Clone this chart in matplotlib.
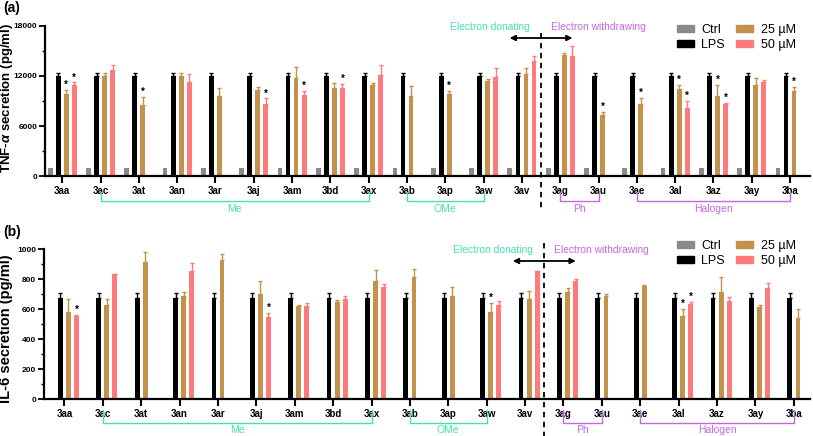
import numpy as np
import matplotlib
matplotlib.use('Agg')
import matplotlib.pyplot as plt
from matplotlib.patches import Patch
from matplotlib.transforms import blended_transform_factory

plt.rcParams['font.family'] = ['Liberation Sans', 'DejaVu Sans']
plt.rcParams['mathtext.fontset'] = 'custom'
plt.rcParams['mathtext.it'] = 'Liberation Sans:bold:italic'
plt.rcParams['mathtext.rm'] = 'Liberation Sans:bold'

nan = np.nan

compounds = ['3aa', '3ac', '3at', '3an', '3ar', '3aj', '3am', '3bd', '3ax', '3ab',
             '3ap', '3aw', '3av', '3ag', '3au', '3ae', '3al', '3az', '3ay', '3ba']

# (a) TNF-alpha, pg/ml
tnf_ctrl = [1000, 1000, 1000, 1000, 1000, 1000, 1000, 1000, 1000, 1000,
            1000, 1000, 1000, 1000, 1000, 1000, 1000, 1000, 1000, 1000]
tnf_lps = [12000, 12000, 12000, 12000, 12000, 12000, 12000, 12000, 12000, 12000,
           12000, 12000, 12000, 12000, 12000, 12000, 12000, 12000, 12000, 12000]
tnf_lps_err = [400, 400, 400, 400, 400, 400, 400, 400, 400, 400,
               400, 400, 400, 400, 400, 400, 400, 400, 400, 400]
tnf_25 = [9800, 12000, 8480, 12000, 9600, 10320, 11720, 10520, 10920, 9600,
          9840, 11400, 12200, 14520, 7320, 8640, 10480, 9600, 10920, 10200]
tnf_25_err = [500, 400, 1000, 400, 1000, 300, 1300, 600, 200, 1200,
              360, 240, 700, 200, 400, 760, 440, 1300, 800, 440]
tnf_50 = [10920, 12720, nan, 11320, nan, 8600, 9720, 10520, 12080, nan,
          nan, 11920, 13840, 14400, nan, nan, 8200, 8640, 11240, nan]
tnf_50_err = [300, 600, 0, 900, 0, 700, 500, 500, 1200, 0,
              0, 1000, 560, 1200, 0, 0, 800, 160, 280, 0]
tnf_star_25 = ['3aa', '3at', '3ap', '3au', '3ae', '3al', '3az', '3ba']
tnf_star_50 = ['3aa', '3aj', '3am', '3bd', '3al', '3az']

# (b) IL-6, pg/ml
il6_ctrl = [5, 5, 5, 5, 5, 5, 5, 5, 5, 5, 5, 5, 5, 5, 5, 5, 5, 5, 5, 5]
il6_lps = [675, 675, 675, 675, 675, 675, 675, 675, 675, 675,
           675, 675, 675, 675, 675, 675, 675, 675, 675, 675]
il6_lps_err = [35, 35, 35, 35, 35, 35, 35, 35, 35, 35,
               35, 35, 35, 35, 35, 35, 35, 35, 35, 35]
il6_25 = [582, 627, 911, 687, 927, 698, 620, 649, 787, 816,
          684, 580, 669, 716, 687, 753, 553, 711, 616, 538]
il6_25_err = [85, 38, 67, 27, 40, 89, 7, 11, 73, 53,
              64, 58, 51, 22, 11, 9, 47, 104, 9, 62]
il6_50 = [553, 831, nan, 856, nan, 544, 622, 669, 747, nan,
          nan, 624, 851, 789, nan, nan, 631, 656, 740, nan]
il6_50_err = [7, 4, 0, 49, 0, 31, 18, 18, 20, 0,
              0, 29, 2, 11, 0, 0, 18, 27, 31, 0]
il6_star_25 = ['3aw', '3al']
il6_star_50 = ['3aa', '3aj', '3al']

# substituent groups under the x axis
groups = [('Me', '3ac', '3ax'), ('OMe', '3ab', '3aw'),
          ('Ph', '3ag', '3au'), ('Halogen', '3ae', '3ba')]

c_ctrl, c_lps, c_25, c_50 = '#8a8a8a', '#000000', '#c4914a', '#ff7b7b'
teal, purple = '#45e2b0', '#c468e0'

x = np.arange(len(compounds))
offs = [-0.315, -0.105, 0.105, 0.315]
w = 0.125


def draw(ax, ctrl, lps, lps_err, d25, e25, d50, e50, s25, s50):
    ax.bar(x + offs[0], ctrl, w, color=c_ctrl)
    ax.bar(x + offs[1], lps, w, color=c_lps)
    ax.bar(x + offs[2], d25, w, color=c_25)
    ax.bar(x + offs[3], d50, w, color=c_50)
    z = np.zeros(len(x))
    for xo, v, e, c in [(offs[1], lps, lps_err, c_lps), (offs[2], d25, e25, c_25),
                        (offs[3], d50, e50, c_50)]:
        ax.errorbar(x + xo, v, yerr=[z, e], fmt='none', ecolor=c, elinewidth=1,
                    capsize=1.5, capthick=1)
    for names, xo, v, e in [(s25, offs[2], d25, e25), (s50, offs[3], d50, e50)]:
        for n in names:
            i = compounds.index(n)
            ax.text(i + xo, v[i] + e[i], '*', ha='center', va='bottom',
                    fontsize=7, fontweight='bold')
    for s in ['top', 'right']:
        ax.spines[s].set_visible(False)
    for s in ['left', 'bottom']:
        ax.spines[s].set_linewidth(1.6)
    ax.set_xticks(x)
    ax.set_xticklabels(compounds, fontsize=7, fontweight='bold')
    ax.tick_params(axis='x', length=5, width=1.5, pad=2)
    ax.tick_params(axis='y', which='major', length=4, width=1.3, labelsize=6, pad=1.5)
    ax.tick_params(axis='y', which='minor', length=2.5, width=1.0)


def annotate(ax, y_top, y_bot, y_lab, y_dash0, y_dash1):
    tr = blended_transform_factory(ax.transData, ax.transAxes)
    for name, a, b in groups:
        i0, i1 = compounds.index(a), compounds.index(b)
        col = teal if name in ('Me', 'OMe') else purple
        ax.plot([i0, i0, i1, i1], [y_top, y_bot, y_bot, y_top], color=col, lw=1,
                transform=tr, clip_on=False)
        ax.text((i0 + i1) / 2, y_lab, name, color=col, fontsize=7.5, ha='center',
                va='center', transform=tr)
    ax.plot([12.5, 12.5], [y_dash0, y_dash1], color='black', ls=(0, (3, 2.5)), lw=1.3,
            transform=tr, clip_on=False)
    ax.annotate('', xy=(11.68, 0.92), xytext=(13.32, 0.92), xycoords=tr, textcoords=tr,
                arrowprops=dict(arrowstyle='<|-|>', color='black', lw=1.3,
                                mutation_scale=8, shrinkA=0, shrinkB=0))
    ax.text(12.2, 0.995, 'Electron donating', color=teal, fontsize=7.4, ha='right',
            va='center', transform=tr)
    ax.text(12.75, 0.995, 'Electron withdrawing', color=purple, fontsize=7.4, ha='left',
            va='center', transform=tr)


fig = plt.figure(figsize=(8.13, 4.36), dpi=100)
ax1 = fig.add_axes([45 / 813, 1 - 176 / 436, 765 / 813, 150 / 436])
ax2 = fig.add_axes([44 / 813, 1 - 399 / 436, 766 / 813, 150 / 436])

draw(ax1, tnf_ctrl, tnf_lps, tnf_lps_err, tnf_25, tnf_25_err, tnf_50, tnf_50_err,
     tnf_star_25, tnf_star_50)
ax1.set_ylim(0, 18000)
ax1.set_yticks([0, 6000, 12000, 18000])
ax1.set_yticks([3000, 9000, 15000], minor=True)
ax1.set_xlim(-0.45, 19.52)
ax1.set_ylabel('TNF-$\\alpha$ secretion (pg/ml)', fontsize=9.5, fontweight='bold')
ax1.yaxis.set_label_coords(-0.039, 0.52)
for lab in ax1.get_yticklabels():
    lab.set_fontweight('bold')
annotate(ax1, -0.105, -0.165, -0.22, 0.955, -0.23)

draw(ax2, il6_ctrl, il6_lps, il6_lps_err, il6_25, il6_25_err, il6_50, il6_50_err,
     il6_star_25, il6_star_50)
ax2.set_ylim(0, 1000)
ax2.set_yticks(np.arange(0, 1001, 200))
ax2.set_yticks(np.arange(100, 1000, 200), minor=True)
ax2.set_xlim(-0.53, 19.42)
ax2.set_ylabel('IL-6 secretion (pg/ml)', fontsize=10.5, fontweight='bold')
ax2.yaxis.set_label_coords(-0.041, 0.47)
for lab in ax2.get_yticklabels():
    lab.set_fontweight('bold')
annotate(ax2, -0.07, -0.16, -0.205, 1.04, -0.26)

handles = [Patch(color=c_ctrl, label='Ctrl'), Patch(color=c_lps, label='LPS'),
           Patch(color=c_25, label='25 µM'), Patch(color=c_50, label='50 µM')]
for yy in [1 - 24 / 436, 1 - 240 / 436]:
    fig.legend(handles=handles, loc='upper left', bbox_to_anchor=(677 / 813, yy), ncol=2,
               frameon=False, fontsize=9, handlelength=1.35, handleheight=0.5,
               handletextpad=0.6, columnspacing=0.9, labelspacing=0.25,
               borderpad=0, borderaxespad=0)

fig.text(3 / 813, 1 - 8 / 436, '(a)', fontsize=10, fontweight='bold', va='center')
fig.text(3 / 813, 1 - 232 / 436, '(b)', fontsize=10, fontweight='bold', va='center')

fig.savefig('out.png', dpi=100)
